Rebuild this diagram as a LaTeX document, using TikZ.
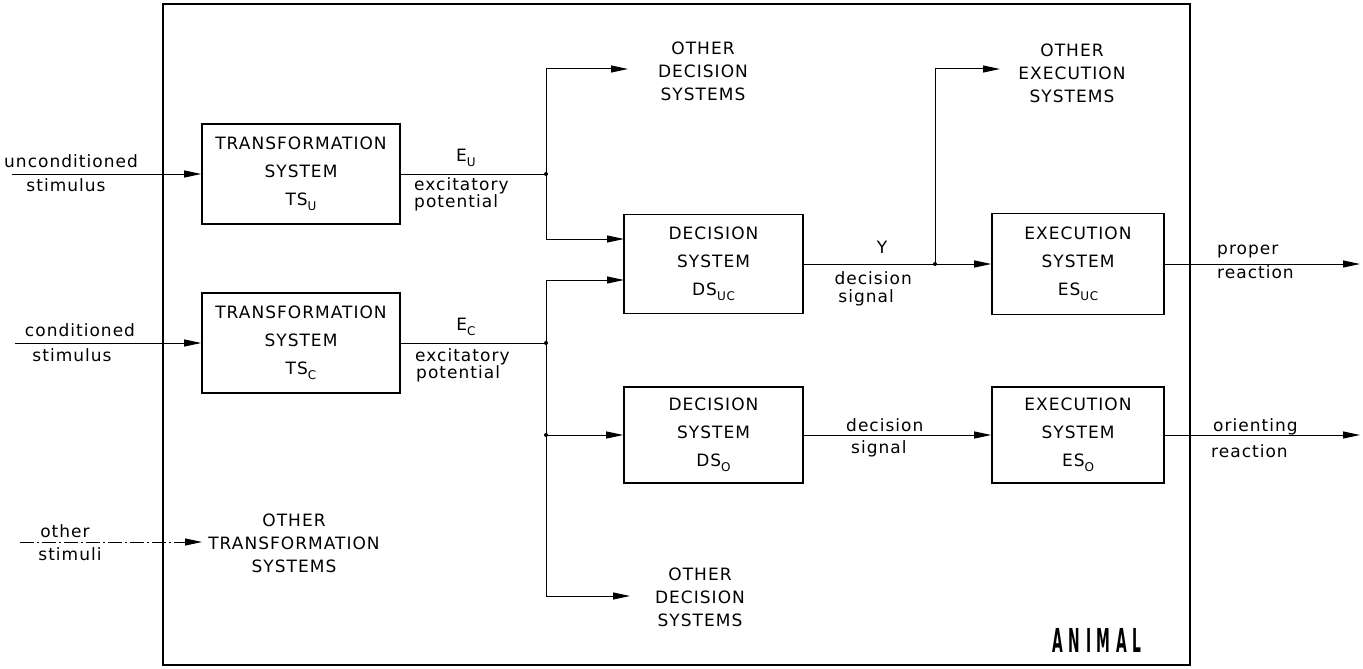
\documentclass[tikz,border=0pt]{standalone}
\usepackage{fontspec}
\setmainfont{DejaVu Sans}[LetterSpace=6]
\newfontfamily\animalfont{DejaVu Sans}[LetterSpace=40]
\usetikzlibrary{arrows.meta}
\newcommand\lowsub[1]{\raisebox{-0.5ex}{\fontsize{12}{12}\selectfont #1}}
\begin{document}
\begin{tikzpicture}[x=1pt,y=-1pt,
  sysbox/.style={draw, line width=1.6pt, font=\fontsize{17}{28}\selectfont, align=center, inner sep=2pt},
  lab/.style={font=\fontsize{17}{18}\selectfont, align=left, inner sep=0pt},
  oth/.style={font=\fontsize{17}{23}\selectfont, align=center, inner sep=0pt},
  conn/.style={line width=1pt},
  arr/.style={conn, -{Triangle[length=17pt,width=7pt]}},
  dot/.style={circle, fill, inner sep=0pt, minimum size=4pt}]
\useasboundingbox (0,0) rectangle (1363,669);
% frame
\draw[line width=2pt] (163,4) rectangle (1190,665);
% boxes
\node[sysbox, minimum width=198pt, minimum height=100pt] (TSU) at (301,174) {TRANSFORMATION\\SYSTEM\\TS\lowsub{U}};
\node[sysbox, minimum width=198pt, minimum height=100pt] (TSC) at (301,343) {TRANSFORMATION\\SYSTEM\\TS\lowsub{C}};
\node[sysbox, minimum width=179pt, minimum height=99pt] (DSUC) at (713.5,264) {DECISION\\SYSTEM\\DS\lowsub{UC}};
\node[sysbox, minimum width=179pt, minimum height=96pt] (DSO) at (713.5,435) {DECISION\\SYSTEM\\DS\lowsub{O}};
\node[sysbox, minimum width=172pt, minimum height=101pt] (ESUC) at (1078,264) {EXECUTION\\SYSTEM\\ES\lowsub{UC}};
\node[sysbox, minimum width=172pt, minimum height=96pt] (ESO) at (1078,435) {EXECUTION\\SYSTEM\\ES\lowsub{O}};
% other-system labels
\node[oth] (ODS1) at (703,71) {OTHER\\DECISION\\SYSTEMS};
\node[oth] (OES) at (1072,73) {OTHER\\EXECUTION\\SYSTEMS};
\node[oth] (ODS2) at (700,597) {OTHER\\DECISION\\SYSTEMS};
\node[oth] (OTS) at (294,543) {OTHER\\TRANSFORMATION\\SYSTEMS};
% coordinates
\coordinate (inU) at (12,174);
\coordinate (inC) at (15,343);
\coordinate (inS) at (20,542);
\coordinate (oT) at (202,542);
\coordinate (jU) at (546,174);
\coordinate (cU1) at (546,69);
\coordinate (oD1) at (628,69);
\coordinate (cU2) at (546,239);
\coordinate (dU) at (624,239);
\coordinate (jC) at (546,343);
\coordinate (cC1) at (546,280);
\coordinate (dC) at (624,280);
\coordinate (jO) at (546,435);
\coordinate (cC3) at (546,596);
\coordinate (oD2) at (630,596);
\coordinate (jY) at (935,264);
\coordinate (cY) at (935,69);
\coordinate (oE) at (1000,69);
\coordinate (outP) at (1360,264);
\coordinate (outO) at (1360,435);
% connectors
\draw[arr] (inU) -- (TSU.west);
\draw[arr] (inC) -- (TSC.west);
\draw[arr, dash pattern=on 14pt off 3pt on 2pt off 3pt] (inS) -- (oT);
\draw[conn] (TSU.east) -- (jU);
\draw[arr] (jU) -- (cU1) -- (oD1);
\draw[arr] (jU) -- (cU2) -- (dU);
\draw[conn] (TSC.east) -- (jC);
\draw[arr] (jC) -- (cC1) -- (dC);
\draw[arr] (jC) -- (cC3) -- (oD2);
\draw[arr] (jO) -- (DSO.west);
\draw[arr] (DSUC.east) -- (ESUC.west);
\draw[arr] (jY) -- (cY) -- (oE);
\draw[arr] (DSO.east) -- (ESO.west);
\draw[arr] (ESUC.east) -- (outP);
\draw[arr] (ESO.east) -- (outO);
\node[dot] at (jU) {};
\node[dot] at (jC) {};
\node[dot] at (jO) {};
\node[dot] at (jY) {};
% labels
\node[lab] (l1) at (71,161) {unconditioned};
\node[lab] (l2) at (66,185) {stimulus};
\node[lab] (l3) at (80,330) {conditioned};
\node[lab] (l4) at (72,355) {stimulus};
\node[lab] (l5) at (65,531) {other};
\node[lab] (l6) at (70,554) {stimuli};
\node[lab] (eU) at (466,158) {E\lowsub{U}};
\node[lab, anchor=west] (x1) at (414,186) {excitatory};
\node[lab, anchor=west] (p1) at (414,203) {potential};
\node[lab] (eC) at (466,327) {E\lowsub{C}};
\node[lab, anchor=west] (x2) at (415,357) {excitatory};
\node[lab, anchor=west] (p2) at (416,374) {potential};
\node[lab] (yl) at (882,247) {Y};
\node[lab, anchor=east] (d1) at (912,278) {decision};
\node[lab, anchor=east] (s1) at (894,298) {signal};
\node[lab, anchor=west] (d2) at (846,425) {decision};
\node[lab, anchor=west] (s2) at (851,449) {signal};
\node[lab, anchor=west] (pr1) at (1217,252) {proper};
\node[lab, anchor=west] (pr2) at (1217,272) {reaction};
\node[lab, anchor=west] (or1) at (1213,427) {orienting};
\node[lab, anchor=west] (or2) at (1211,451) {reaction};
\node (animal) at (1097,640) {\scalebox{0.42}[1]{\animalfont\bfseries\fontsize{33}{33}\selectfont ANIMAL}};
\end{tikzpicture}
\end{document}
